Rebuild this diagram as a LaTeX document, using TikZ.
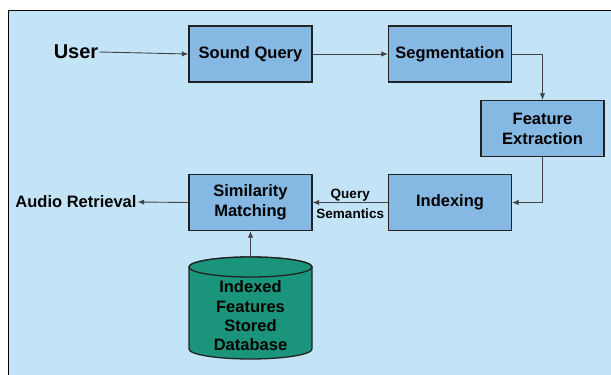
\documentclass[tikz,border=0pt]{standalone}
\usepackage{fontspec}
\setmainfont{Liberation Sans}
\usetikzlibrary{arrows.meta}
\definecolor{panelbg}{RGB}{194,228,246}
\definecolor{boxfill}{RGB}{133,185,227}
\definecolor{dbfill}{RGB}{26,148,122}
\definecolor{edgecol}{RGB}{34,34,34}
\tikzset{
  stagebox/.style={draw=edgecol, line width=1.3pt, fill=boxfill, inner sep=0pt,
    minimum width=123pt, minimum height=56pt, align=center,
    font=\bfseries\fontsize{16.5}{20}\selectfont},
  flow/.style={draw=edgecol!85, line width=0.9pt, -{Latex[length=6.5pt,width=5.5pt]}},
  endlabel/.style={inner sep=1pt, font=\bfseries\fontsize{16.5}{20}\selectfont},
  storetext/.style={inner sep=0pt, align=center,
    font=\bfseries\fontsize{16.5}{19.3}\selectfont},
  storeshape/.style={draw=edgecol, line width=1.3pt, fill=dbfill}
}
\begin{document}
\begin{tikzpicture}[x=1pt,y=-1pt]
  \useasboundingbox (0,0) rectangle (611,375);
  % light blue panel behind everything
  \draw[fill=panelbg, draw=black, line width=1pt] (8.5,10.5) rectangle (640,400);

  % database cylinder: body with rounded bottom, then the top lid
  \draw[storeshape] (189,267) -- (189,349)
    arc[start angle=180, end angle=0, x radius=61.5, y radius=10]
    -- (312,267) arc[start angle=0, end angle=-180, x radius=61.5, y radius=10] -- cycle;
  \draw[storeshape] (250.5,267) ellipse[x radius=61.5, y radius=10];
  \coordinate (dbtop) at (250.5,257);

  \node[endlabel, font=\bfseries\fontsize{20}{24}\selectfont] (user) at (76,52) {User};
  \node[stagebox] (sq) at (250.5,54) {Sound Query};
  \node[stagebox] (seg) at (450,54) {Segmentation};
  \node[stagebox] (fe) at (542.5,128.5) {Feature\\Extraction};
  \node[stagebox] (idx) at (450,202.5) {Indexing};
  \node[stagebox] (sim) at (250.5,202.5) {Similarity\\Matching};
  \node[endlabel] (ar) at (76,202) {Audio Retrieval};
  \node[storetext] (db) at (250.5,316) {Indexed\\Features\\Stored\\Database};

  \draw[flow] (user.east) -- (sq.west);
  \draw[flow] (sq.east) -- (seg.west);
  \draw[flow] (seg.east) -| (fe.north);
  \draw[flow] (fe.south) |- (idx.east);
  \draw[flow] (idx.west) -- node[midway, yshift=-1pt, align=center, inner sep=0pt,
    font=\bfseries\fontsize{13.5}{20}\selectfont] {Query\\Semantics} (sim.east);
  \draw[flow] (sim.west) -- (ar.east);
  \draw[flow] (dbtop) -- (sim.south);
\end{tikzpicture}
\end{document}
